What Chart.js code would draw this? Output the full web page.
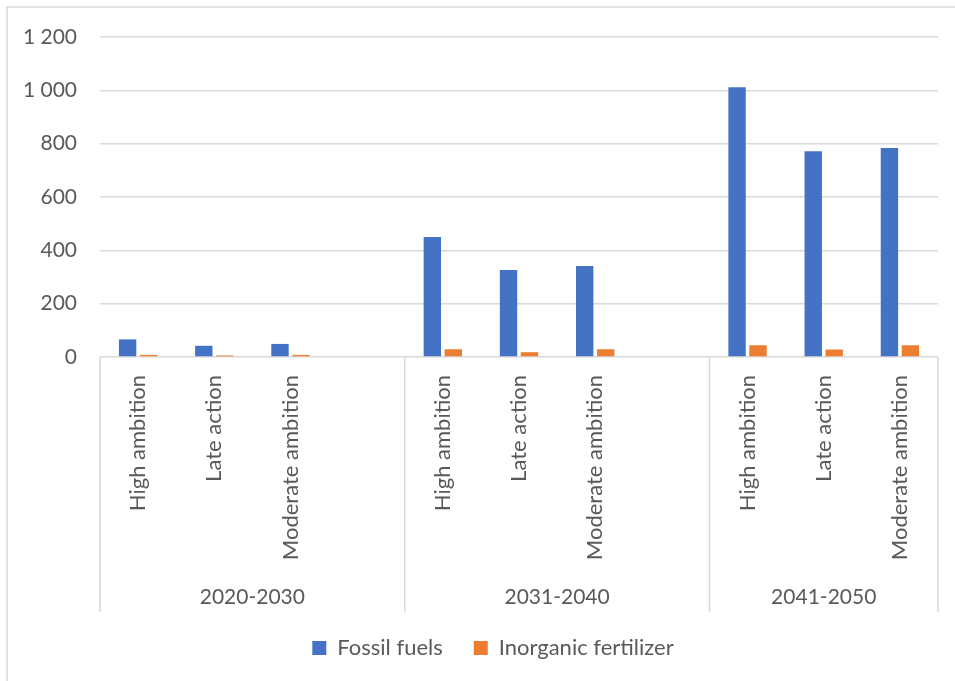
<!DOCTYPE html>
<html>
<head>
<meta charset="utf-8">
<script src="https://cdn.jsdelivr.net/npm/chart.js@4"></script>
<style>
  html, body { margin: 0; padding: 0; background: #fff; }
  #wrap { width: 955px; height: 681px; }
</style>
</head>
<body>
<div id="wrap"><canvas id="chart"></canvas></div>
<script>
// scenario labels, blank slot keeps the gap at the end of the first two periods
const categories = [
  'High ambition', 'Late action', 'Moderate ambition', '',
  'High ambition', 'Late action', 'Moderate ambition', '',
  'High ambition', 'Late action', 'Moderate ambition'
];
const periods = ['2020-2030', '2031-2040', '2041-2050'];
const periodSizes = [4, 4, 3];
const fossilFuels = [66, 42, 49, null, 450, 326, 341, null, 1012, 772, 784];
const fertilizer = [8, 6, 8, null, 29, 18, 29, null, 44, 28, 44];
const yTicks = [0, 200, 400, 600, 800, 1000, 1200];

const FONT = 'Lato';
const TXT = '#595959';
const GRID = '#d9d9d9';

function fmt(v){
  return String(v).replace(/\B(?=(\d{3})+(?!\d))/g, ' ');
}

// chart frame, period separators and period labels
const groupAxis = {
  id: 'groupAxis',
  afterLayout(chart){
    // legend sits a bit right of the canvas centre
    chart.legend.left += 24;
    chart.legend.right += 24;
  },
  beforeDraw(chart){
    const ctx = chart.ctx;
    ctx.save();
    ctx.strokeStyle = GRID;
    ctx.lineWidth = 1.5;
    ctx.strokeRect(7, 7, 960, 700);
    ctx.restore();
  },
  afterDraw(chart){
    const ctx = chart.ctx;
    const x = chart.scales.x;
    const top = chart.chartArea.bottom;
    const bottom = top + 255;
    const edges = [chart.chartArea.left];
    let idx = 0;
    periodSizes.forEach((n, i) => {
      idx += n;
      if (i < periodSizes.length - 1) {
        edges.push((x.getPixelForTick(idx - 1) + x.getPixelForTick(idx)) / 2);
      } else {
        edges.push(chart.chartArea.right);
      }
    });
    ctx.save();
    ctx.strokeStyle = GRID;
    ctx.lineWidth = 1.5;
    edges.forEach(e => {
      ctx.beginPath();
      ctx.moveTo(e, top);
      ctx.lineTo(e, bottom);
      ctx.stroke();
    });
    ctx.fillStyle = TXT;
    ctx.font = '21px ' + FONT;
    ctx.textAlign = 'center';
    ctx.textBaseline = 'middle';
    periods.forEach((p, i) => {
      ctx.fillText(p, (edges[i] + edges[i + 1]) / 2, bottom - 15);
    });
    ctx.restore();
  }
};

new Chart(document.getElementById('chart'), {
  type: 'bar',
  data: {
    labels: categories,
    datasets: [
      { label: 'Fossil fuels', data: fossilFuels, backgroundColor: '#4472C4',
        categoryPercentage: 0.55, barPercentage: 0.83 },
      { label: 'Inorganic fertilizer', data: fertilizer, backgroundColor: '#ED7D31',
        categoryPercentage: 0.55, barPercentage: 0.83 }
    ]
  },
  options: {
    responsive: true,
    maintainAspectRatio: false,
    animation: false,
    layout: { padding: { top: 37, right: 17, bottom: 12, left: 0 } },
    plugins: {
      tooltip: { enabled: false },
      legend: {
        position: 'bottom',
        labels: {
          color: TXT, font: { family: FONT, size: 22 },
          boxWidth: 14, boxHeight: 14, padding: 31
        }
      }
    },
    scales: {
      x: {
        grid: { display: false },
        border: { display: false },
        ticks: {
          color: TXT, font: { family: FONT, size: 22 },
          minRotation: 90, maxRotation: 90, autoSkip: false, padding: 10
        },
        afterFit(scale){ scale.height = 249; }
      },
      y: {
        min: 0, max: 1200,
        afterBuildTicks(scale){ scale.ticks = yTicks.map(v => ({ value: v })); },
        grid: { color: GRID, lineWidth: 1.5, drawTicks: false },
        border: { display: false },
        ticks: {
          color: TXT, font: { family: FONT, size: 21 }, padding: 23,
          callback: v => fmt(v)
        },
        afterFit(scale){ scale.width = 100; }
      }
    }
  },
  plugins: [groupAxis]
});
</script>
</body>
</html>
